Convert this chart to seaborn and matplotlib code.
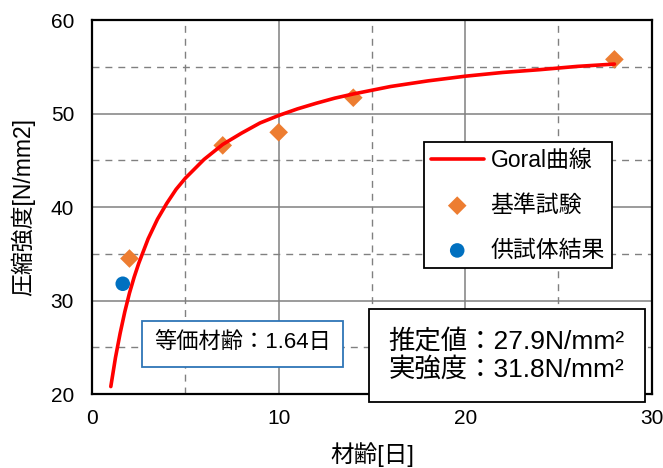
import numpy as np
import pandas as pd
import matplotlib
import matplotlib.pyplot as plt
import seaborn as sns
from matplotlib.ticker import MultipleLocator

matplotlib.use("Agg")

# Goral曲線
curve_age = [1.0, 1.25, 1.5, 1.75, 2.0, 2.25, 2.5, 3.0, 3.5, 4.0, 4.5, 5.0, 6.0, 7.0, 8.0,
             9.0, 10.0, 11.0, 12.0, 13.0, 14.0, 15.0, 16.0, 17.0, 18.0, 20.0, 22.0, 24.0,
             26.0, 28.0]
curve_strength = [20.8, 23.9, 26.5, 28.8, 30.8, 32.5, 34.0, 36.6, 38.7, 40.4, 41.9, 43.1,
                  45.1, 46.7, 47.9, 49.0, 49.8, 50.5, 51.1, 51.65, 52.1, 52.5, 52.9, 53.2,
                  53.5, 54.0, 54.4, 54.7, 55.05, 55.3]

# 基準試験
std_age = [2, 7, 10, 14, 28]
std_strength = [34.5, 46.6, 48.0, 51.7, 55.8]

# 供試体結果
spec_age = [1.64]
spec_strength = [31.8]

sns.set_style("white")
plt.rcParams['font.family'] = ['Liberation Sans', 'Noto Sans CJK JP', 'DejaVu Sans']
plt.rcParams['text.color'] = 'black'
plt.rcParams['axes.labelcolor'] = 'black'
plt.rcParams['xtick.color'] = 'black'
plt.rcParams['ytick.color'] = 'black'

fig, ax = plt.subplots(figsize=(6.63, 4.68), dpi=100)
fig.subplots_adjust(left=0.139, right=0.983, top=0.957, bottom=0.158)

curve_df = pd.DataFrame({"age": curve_age, "strength": curve_strength})
sns.lineplot(data=curve_df, x="age", y="strength", color="#FF0000", linewidth=2.6,
             label="Goral曲線", ax=ax)
sns.scatterplot(x=std_age, y=std_strength, marker="D", s=90, color="#ED7D31",
                edgecolor="none", label="基準試験", ax=ax)
sns.scatterplot(x=spec_age, y=spec_strength, marker="o", s=110, color="#0070C0",
                edgecolor="none", label="供試体結果", ax=ax)

ax.set_xlim(0, 30)
ax.set_ylim(20, 60)
ax.xaxis.set_major_locator(MultipleLocator(10))
ax.yaxis.set_major_locator(MultipleLocator(10))
ax.xaxis.set_minor_locator(MultipleLocator(5))
ax.yaxis.set_minor_locator(MultipleLocator(5))
ax.grid(which="major", color="#808080", linewidth=1.1, linestyle="-")
ax.grid(which="minor", color="#808080", linewidth=1.0, linestyle=(0, (5, 4.3)))
ax.set_axisbelow(True)
ax.tick_params(which="both", length=0, labelsize=15)
ax.tick_params(axis="x", pad=11)
ax.tick_params(axis="y", pad=13)
for sp in ax.spines.values():
    sp.set_color("black")
    sp.set_linewidth(1.6)

ax.set_xlabel("材齢[日]", fontsize=17)
ax.set_ylabel("圧縮強度[N/mm2]", fontsize=16.5)
ax.xaxis.set_label_coords(0.5, -0.128)
ax.yaxis.set_label_coords(-0.102, 0.5)

leg = ax.legend(loc="upper left", bbox_to_anchor=(0.593, 0.674), fontsize=16.5,
                frameon=True, fancybox=False, edgecolor="black", framealpha=1,
                handlelength=2.3, handletextpad=0.3, borderpad=0.3, labelspacing=0.95,
                borderaxespad=0)
leg.get_frame().set_linewidth(1.3)

ax.text(0.269, 0.134, "等価材齢：1.64日", transform=ax.transAxes, fontsize=16,
        va="center", ha="center",
        bbox=dict(boxstyle="square,pad=0.55", facecolor="white", edgecolor="#2E75B6",
                  linewidth=1.3))
ax.text(0.741, 0.103, "推定値：27.9N/mm²\n実強度：31.8N/mm²", transform=ax.transAxes,
        fontsize=19, va="center", ha="center", linespacing=1.15,
        bbox=dict(boxstyle="square,pad=0.75", facecolor="white", edgecolor="black",
                  linewidth=1.3))

fig.savefig("out.png", dpi=100)
